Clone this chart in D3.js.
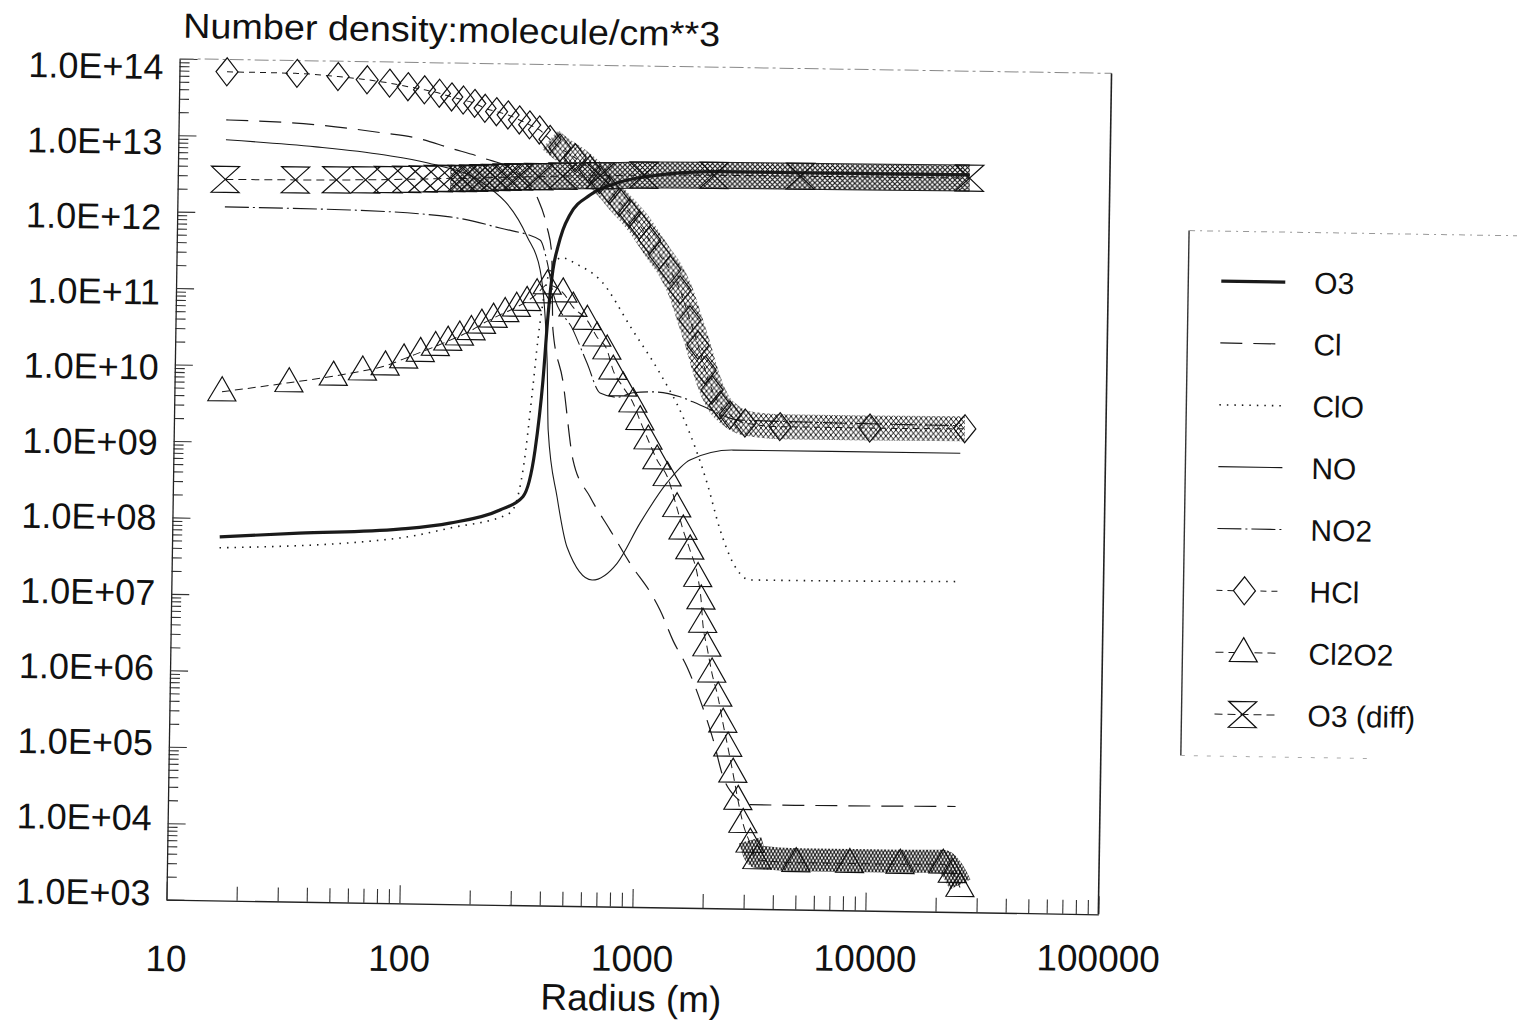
<!DOCTYPE html>
<html>
<head>
<meta charset="utf-8">
<script src="https://cdn.jsdelivr.net/npm/d3@7"></script>
<style>
  body { margin: 0; background: #fff; }
  text { font-family: "Liberation Sans", Arial, Helvetica, sans-serif; fill: #111; }
</style>
</head>
<body>
<svg id="chart" width="1517" height="1021"></svg>
<script>
// Number density (molecule/cm^3) against plume radius (m)
const radiusTicks = [10, 100, 1000, 10000, 100000];
const densityTicks = [1e3, 1e4, 1e5, 1e6, 1e7, 1e8, 1e9, 1e10, 1e11, 1e12, 1e13, 1e14];
const speciesNames = ["O3", "Cl", "ClO", "NO", "NO2", "HCl", "Cl2O2", "O3 (diff)"];

const o3 = [[16,5.7e7],[35,6.6e7],[94,7.8e7],[155,9.6e7],[254,1.46e8],[318,2.2e8],[356,9e8],[381,7.5e9],[397,5.6e10],
  [413,2.06e11],[432,4.1e11],[453,6.9e11],[484,1.09e12],[589,2.0e12],[790,3.0e12],[1170,3.8e12],[2120,4.3e12],[25000,4.4e12]];

const cl = [[16,1.62e13],[39,1.46e13],[75,1.18e13],[105,1.03e13],[147,7.7e12],[204,5.8e12],[285,3.8e12],[349,1.85e12],
  [387,7.5e11],[407,3.4e11],[417,3.4e10],[463,7.5e9],[519,6.8e8],[618,2.25e8],[757,8.4e7],[927,3.1e7],[1170,1.14e7],
  [1256,7.7e6],[1434,3.1e6],[1655,1.4e6],[1893,5.2e5],[2164,1.6e5],[2404,5.2e4],[2750,2.8e4],[3150,2.3e4],[24000,2.4e4]];

const clo = [[16,4.1e7],[95,6e7],[156,8.3e7],[281,1.34e8],[317,4.9e8],[345,6e9],[360,2.5e10],[385,1.2e11],[420,2.6e11],
  [450,3e11],[520,2.5e11],[660,1.56e11],[916,3.5e10],[1208,9.7e9],[1530,2.6e9],[1960,3.6e8],[2244,8.9e7],[2564,3.3e7],
  [3042,2.0e7],[24200,2.1e7]];

const no = [[16,8.9e12],[39,7.5e12],[76,6.1e12],[117,4.9e12],[204,2.74e12],[319,5.5e11],[364,2.05e11],[396,1.25e10],
  [404,1.66e9],[446,2.2e8],[496,4.9e7],[638,1.85e7],[815,3.1e7],[1016,1.05e8],[1319,3.6e8],[1648,7.2e8],[2518,9.9e8],[23800,1.0e9]];

const no2 = [[16,1.18e12],[55,1.14e12],[148,9.7e11],[243,7.1e11],[362,5.05e11],[391,2.5e11],[415,1.03e11],[509,3.4e10],
  [587,1.27e10],[671,5.2e9],[795,4.6e9],[927,5.3e9],[1130,5.5e9],[1480,4.8e9],[1804,3.8e9],[2686,2.45e9],[23600,2.3e9]];

const hcl = [[16,6.9e13],[32,6.8e13],[48,6.3e13],[64,5.8e13],[80,5.3e13],[96,4.8e13],[113,4.4e13],[131,4.0e13],[148,3.6e13],
  [166,3.3e13],[186,3.0e13],[206,2.6e13],[231,2.36e13],[259,2.15e13],[290,1.86e13],[321,1.61e13],[354,1.39e13],[393,1.05e13],
  [434,8.2e12],[506,6.1e12],[586,4.3e12],[647,3.2e12],[714,2.35e12],[789,1.65e12],[873,1.19e12],[966,8.3e11],[1070,5.3e11],
  [1183,3.4e11],[1313,2.2e11],[1454,1.2e11],[1611,4.9e10],[1753,2.3e10],[1888,1.09e10],[2029,6.0e9],[2198,3.8e9],
  [2432,2.84e9],[2825,2.25e9],[3990,2.05e9],[9700,2.05e9],[24800,2.1e9]];

const cl2o2 = [[16,4.5e9],[31,6.1e9],[48,7.6e9],[64,9e9],[80,1.06e10],[96,1.32e10],[113,1.62e10],[131,1.95e10],[148,2.3e10],
  [166,2.7e10],[186,3.2e10],[206,3.9e10],[231,4.7e10],[259,5.6e10],[290,6.6e10],[321,7.9e10],[354,1.0e11],[392,1.31e11],
  [458,1.04e11],[507,6.8e10],[584,4.6e10],[645,2.8e10],[714,1.9e10],[760,1.04e10],[840,6.3e9],[931,3.9e9],[1000,2.3e9],
  [1087,1.29e9],[1190,7.1e8],[1321,4.3e8],[1459,1.7e8],[1557,8.7e7],[1671,4.8e7],[1815,2.1e7],[1880,1.07e7],[1919,5.3e6],
  [2008,2.6e6],[2116,1.19e6],[2255,5.8e5],[2378,2.65e5],[2506,1.29e5],[2646,5.9e4],[2793,2.6e4],[2945,1.3e4],[3170,7.2e3],
  [3400,4.4e3],[5000,4.1e3],[8500,4.1e3],[14000,4.1e3],[21400,4.2e3],[23500,3.2e3],[25400,2.1e3]];

const o3diff = [[16,2.7e12],[32,2.75e12],[48,2.8e12],[64,2.85e12],[80,2.9e12],[96,2.95e12],[113,3.0e12],[131,3.05e12],
  [148,3.1e12],[166,3.1e12],[186,3.15e12],[206,3.2e12],[231,3.25e12],[259,3.3e12],[290,3.35e12],[354,3.4e12],[450,3.5e12],
  [650,3.6e12],[1000,3.75e12],[2000,3.85e12],[4700,3.9e12],[25000,4.0e12]];

// drawing options for each species (built from the arrays above)
const series = [
  {name: speciesNames[0], data: o3, width: 3.2, dash: null},
  {name: speciesNames[1], data: cl, width: 1.2, dash: "22,11"},
  {name: speciesNames[2], data: clo, width: 1.6, dash: "1.5,6"},
  {name: speciesNames[3], data: no, width: 1.1, dash: null},
  {name: speciesNames[4], data: no2, width: 1.1, dash: "24,4,2,4"},
  {name: speciesNames[5], data: hcl, width: 1, dash: "6,5", marker: "diamond", bandFrom: 380, hatch: "hatchD", bandWidth: 25, bandShift: 0},
  {name: speciesNames[6], data: cl2o2, width: 1, dash: "8,5", marker: "triangle", bandFrom: 3100, hatch: "hatchT", bandWidth: 23, bandShift: -3},
  {name: speciesNames[7], data: o3diff, width: 1, dash: "8,5", marker: "hourglass", bandFrom: 140, hatch: "hatchX", bandWidth: 25, bandShift: 0, edged: true}
];

const frame = {left: 173, right: 1105, top: 66, bottom: 907};
const tilt = 0.9; // degrees, the source is a slightly tilted scan
const tiltSlope = Math.tan(tilt * Math.PI / 180);

const x = d3.scaleLog().domain([10, 100000]).range([frame.left, frame.right]);
const y = d3.scaleLog().domain([1e3, 1e14]).range([frame.bottom, frame.top]);

const svg = d3.select("#chart");

// hatch fills used for the stretches where the markers pile up into a band
const defs = svg.append("defs");
function addHatch(id, w, h, sw) {
  const p = defs.append("pattern").attr("id", id).attr("patternUnits", "userSpaceOnUse")
    .attr("width", w).attr("height", h);
  p.append("rect").attr("width", w).attr("height", h).attr("fill", "#fff");
  p.append("path").attr("d", `M0,0L${w},${h}M${w},0L0,${h}`)
    .attr("stroke", "#111").attr("stroke-width", sw).attr("fill", "none");
}
addHatch("hatchX", 5, 5, 1.1);
addHatch("hatchD", 5, 6, 1);
addHatch("hatchT", 3.5, 6, 1.1);

const root = svg.append("g").attr("transform", `rotate(${tilt},639,486)`);

const markerPath = {
  diamond: "M0,-14L11,0L0,14L-11,0Z",
  triangle: "M0,-15L14,9L-14,9Z",
  hourglass: "M-14,-13L14,-13L-14,13L14,13Z"
};

// minor tick values (2..9 of every decade)
const minorX = [], minorY = [];
for (let k = 1; k < 5; k++) for (let m = 2; m <= 9; m++) minorX.push(m * Math.pow(10, k));
for (let k = 3; k < 14; k++) for (let m = 2; m <= 9; m++) minorY.push(m * Math.pow(10, k));

// y axis, ticks pointing into the plot
root.append("g")
  .attr("transform", `translate(${frame.left},0)`)
  .call(d3.axisLeft(y).tickValues(minorY).tickSize(-10).tickSizeOuter(0).tickFormat(""))
  .call(g => g.select(".domain").remove());

root.append("g")
  .attr("class", "y axis")
  .attr("transform", `translate(${frame.left},0)`)
  .call(d3.axisLeft(y).tickValues(densityTicks).tickSize(-18).tickSizeOuter(0).tickPadding(16)
    .tickFormat(d => "1.0E+" + String(Math.round(Math.log10(d))).padStart(2, "0")))
  .attr("font-size", 36)
  // the printed labels sit a little tighter than the decades
  .call(g => g.selectAll(".tick text").attr("y", d => -6 + 1.34 * (Math.log10(d) - 3)));

// x axis
root.append("g")
  .attr("transform", `translate(0,${frame.bottom})`)
  .call(d3.axisBottom(x).tickValues(minorX).tickSize(-14).tickSizeOuter(0).tickFormat(""))
  .call(g => g.select(".domain").remove());

root.append("g")
  .attr("class", "x axis")
  .attr("transform", `translate(0,${frame.bottom})`)
  .call(d3.axisBottom(x).tickValues(radiusTicks).tickSize(-18).tickSizeOuter(0).tickPadding(39).tickFormat(d3.format("d")))
  .attr("font-size", 37)
  // labels of the scan run level, not along the tilted frame
  .call(g => g.selectAll(".tick text").attr("y", d => 38 - tiltSlope * (x(d) - 639)));

root.selectAll(".axis .domain").attr("stroke", "#222").attr("stroke-width", 1.3);
root.selectAll(".tick line").attr("stroke", "#333").attr("stroke-width", 1.1);

// top and right border of the frame
root.append("line").attr("x1", frame.left).attr("x2", frame.right).attr("y1", frame.top).attr("y2", frame.top)
  .attr("stroke", "#888").attr("stroke-width", 1).attr("stroke-dasharray", "14,4,3,4");
root.append("line").attr("x1", frame.right).attr("x2", frame.right).attr("y1", frame.top).attr("y2", frame.bottom)
  .attr("stroke", "#222").attr("stroke-width", 1.6);

// titles
root.append("text").attr("x", 176).attr("y", 45).attr("font-size", 35)
  .attr("textLength", 537).attr("lengthAdjust", "spacingAndGlyphs")
  .text("Number density:molecule/cm**3");
root.append("text").attr("x", (frame.left + frame.right) / 2).attr("y", 1011).attr("font-size", 37)
  .attr("text-anchor", "middle").text("Radius (m)");

const line = d3.line().x(d => x(d[0])).y(d => y(d[1])).curve(d3.curveMonotoneX);

const plot = root.append("g");

// marker bands first, so lines and outlines sit on top
series.filter(s => s.marker).forEach(s => {
  const band = s.data.filter(d => d[0] >= s.bandFrom);
  const g = plot.append("g").attr("transform", `translate(0,${s.bandShift})`);
  if (s.edged) {
    g.append("path").attr("d", line(band)).attr("fill", "none")
      .attr("stroke", "#222").attr("stroke-width", s.bandWidth + 2);
  }
  g.append("path").attr("d", line(band)).attr("fill", "none")
    .attr("stroke", `url(#${s.hatch})`).attr("stroke-width", s.bandWidth);
});

series.forEach(s => {
  plot.append("path")
    .attr("d", line(s.data))
    .attr("fill", "none")
    .attr("stroke", "#1a1a1a")
    .attr("stroke-width", s.width)
    .attr("stroke-dasharray", s.dash);
});

series.filter(s => s.marker).forEach(s => {
  plot.append("g").selectAll("path")
    .data(s.data)
    .join("path")
    .attr("d", markerPath[s.marker])
    .attr("transform", d => `translate(${x(d[0])},${y(d[1])})`)
    .attr("fill", "none")
    .attr("stroke", "#111")
    .attr("stroke-width", 1.2);
});

// legend
const legend = root.append("g");
legend.append("line").attr("x1", 1185).attr("x2", 1185).attr("y1", 222).attr("y2", 747)
  .attr("stroke", "#333").attr("stroke-width", 1.4);
legend.append("line").attr("x1", 1185).attr("x2", 1520).attr("y1", 222).attr("y2", 222)
  .attr("stroke", "#999").attr("stroke-width", 1).attr("stroke-dasharray", "6,5,2,5");
legend.append("line").attr("x1", 1185).attr("x2", 1380).attr("y1", 747).attr("y2", 747)
  .attr("stroke", "#aaa").attr("stroke-width", 1).attr("stroke-dasharray", "4,9");

const rowY = d3.scaleLinear().domain([0, speciesNames.length - 1]).range([272, 705]);

series.forEach((s, i) => {
  const yy = rowY(i);
  legend.append("line").attr("x1", 1218).attr("x2", 1282).attr("y1", yy).attr("y2", yy)
    .attr("stroke", "#1a1a1a").attr("stroke-width", s.width).attr("stroke-dasharray", s.dash);
  if (s.marker) {
    legend.append("path").attr("d", markerPath[s.marker])
      .attr("transform", `translate(1246,${yy})`)
      .attr("fill", "#fff").attr("stroke", "#111").attr("stroke-width", 1.2);
  }
  legend.append("text").attr("x", 1311).attr("y", yy).attr("dy", "0.36em")
    .attr("font-size", 30).text(s.name);
});
</script>
</body>
</html>
